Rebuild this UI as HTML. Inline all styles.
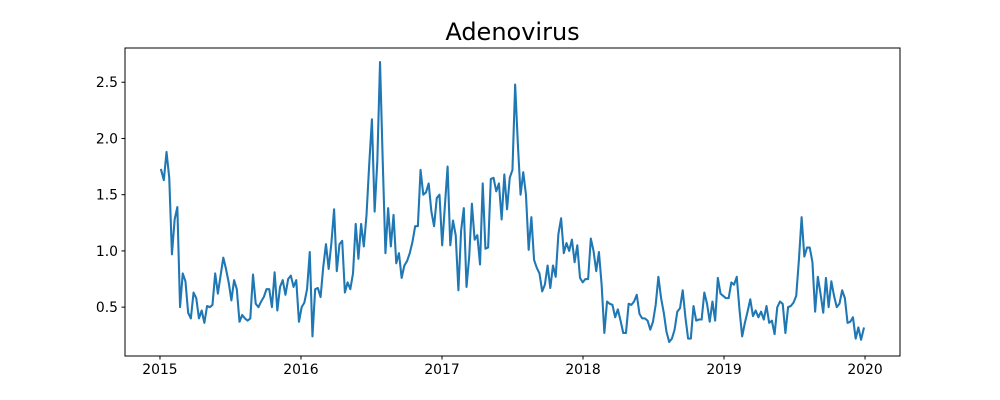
<!DOCTYPE html>
<html><head><meta charset="utf-8"><style>
body{margin:0;background:#fff}
svg{display:block;font-family:"DejaVu Sans","Liberation Sans",sans-serif}
</style></head><body>
<svg id="chart" width="1000" height="400">
<rect width="1000" height="400" fill="#fff"/>
<text x="512.5" y="40" text-anchor="middle" font-size="24">Adenovirus</text>
<g id="plot"></g>
<rect x="125" y="48" width="775" height="308" fill="none" stroke="#000" stroke-width="1"/>
</svg>
<script>
const startYear = 2015;
const xTickLabels = ["2015","2016","2017","2018","2019","2020"];
const yTickValues = [0.5,1.0,1.5,2.0,2.5];
const yTickLabels = ["0.5","1.0","1.5","2.0","2.5"];
const values2015 = [1.72,1.63,1.88,1.65,0.97,1.28,1.39,0.50,0.80,0.73,0.45,0.40,0.63,0.58,0.40,0.47,0.36,0.51,0.50,0.52,0.80,0.62,0.78,0.94,0.84,0.72,0.56,0.74,0.66,0.37,0.43,0.40,0.38,0.40,0.79,0.53,0.50,0.55,0.59,0.66,0.66,0.50,0.81,0.47,0.68,0.74,0.61,0.75,0.78,0.68,0.74,0.37];
const values2016 = [0.50,0.54,0.66,0.99,0.24,0.66,0.67,0.59,0.86,1.06,0.84,1.07,1.37,0.82,1.06,1.09,0.63,0.72,0.66,0.80,1.24,0.93,1.24,1.04,1.32,1.77,2.17,1.35,1.80,2.68,1.80,0.98,1.38,1.04,1.32,0.89,0.98,0.76,0.87,0.91,0.98,1.08,1.22,1.22,1.72,1.50,1.52,1.60,1.35,1.22,1.47,1.50];
const values2017 = [1.05,1.40,1.75,1.05,1.27,1.14,0.65,1.18,1.38,0.68,0.95,1.42,1.10,1.14,0.88,1.60,1.02,1.03,1.64,1.65,1.53,1.60,1.28,1.68,1.37,1.65,1.72,2.48,1.95,1.50,1.70,1.50,1.01,1.30,0.92,0.85,0.80,0.64,0.70,0.87,0.67,0.87,0.77,1.15,1.29,0.98,1.07,1.00,1.10,0.90,1.05,0.76];
const values2018 = [0.72,0.75,0.75,1.11,1.00,0.82,0.99,0.70,0.27,0.55,0.53,0.52,0.41,0.48,0.38,0.27,0.27,0.53,0.52,0.55,0.61,0.44,0.40,0.40,0.38,0.30,0.37,0.52,0.77,0.58,0.45,0.28,0.19,0.22,0.30,0.46,0.49,0.65,0.41,0.22,0.22,0.51,0.38,0.39,0.39,0.63,0.53,0.37,0.55,0.38,0.76,0.62];
const values2019 = [0.60,0.58,0.58,0.72,0.70,0.77,0.48,0.24,0.36,0.46,0.57,0.42,0.47,0.41,0.46,0.39,0.51,0.36,0.38,0.26,0.50,0.55,0.53,0.27,0.50,0.51,0.54,0.60,0.92,1.30,0.95,1.03,1.03,0.90,0.46,0.77,0.62,0.45,0.76,0.50,0.73,0.60,0.50,0.53,0.65,0.58,0.36,0.37,0.41,0.22,0.32,0.21,0.31];

const values = [].concat(values2015,values2016,values2017,values2018,values2019);
const ns="http://www.w3.org/2000/svg";
const L=125,R=900,T=48,B=356;
const xMin=2014.752,xMax=2020.248,yMin=0.0655,yMax=2.8045;
const xS=v=>L+(v-xMin)/(xMax-xMin)*(R-L);
const yS=v=>B-(v-yMin)/(yMax-yMin)*(B-T);
const plot=document.getElementById('plot');
function mk(tag,attrs){const e=document.createElementNS(ns,tag);for(const k in attrs)e.setAttribute(k,attrs[k]);plot.appendChild(e);return e;}
xTickLabels.forEach((lab,i)=>{
  const x=xS(startYear+i);
  const t=mk('line',{x1:x,x2:x,y1:B,y2:B+3.5,stroke:'#000'});
  
  
  const tx=mk('text',{x:x,y:B+18,'text-anchor':'middle','font-size':'13.9'});
  tx.textContent=lab;
  
  
});
yTickValues.forEach((v,i)=>{
  const y=yS(v);
  const t=mk('line',{x1:L-3.5,x2:L,y1:y,y2:y,stroke:'#000'});
  
  
  const tx=mk('text',{x:L-7,y:y+5,'text-anchor':'end','font-size':'13.9'});
  tx.textContent=yTickLabels[i];
  
  
});
const pts=values.map((v,i)=>xS(startYear+(i*7+3)/365.25).toFixed(2)+','+yS(v).toFixed(2)).join(' ');
const line=mk('polyline',{points:pts,fill:'none',stroke:'#1f77b4','stroke-width':'2.08','stroke-linejoin':'round','stroke-linecap':'square'});


</script>
</body></html>
